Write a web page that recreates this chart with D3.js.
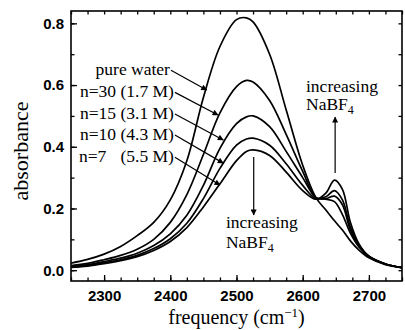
<!DOCTYPE html>
<meta charset="utf-8">
<script src="https://d3js.org/d3.v7.min.js"></script>
<style>
  body { margin: 0; background: #fff; }
</style>
<div id="chart"></div>
<script>
// sample frequencies (cm-1) shared by every spectrum
var freq = [2250, 2275, 2300, 2325, 2350, 2375, 2400, 2425, 2450, 2475, 2500, 2515, 2525,
            2550, 2575, 2600, 2620, 2635, 2648, 2660, 2672, 2685, 2700, 2725, 2750];

// absorbance
var pureWater = [0.023, 0.035, 0.052, 0.077, 0.112, 0.155, 0.228, 0.355, 0.560, 0.725, 0.812, 0.818, 0.805,
                 0.700, 0.520, 0.340, 0.235, 0.195, 0.160, 0.130, 0.095, 0.065, 0.040, 0.018, 0.008];
var n30 = [0.015, 0.022, 0.034, 0.048, 0.068, 0.100, 0.155, 0.245, 0.375, 0.510, 0.595, 0.615, 0.610,
           0.550, 0.440, 0.320, 0.235, 0.230, 0.222, 0.180, 0.120, 0.075, 0.045, 0.020, 0.008];
var n15 = [0.012, 0.018, 0.028, 0.039, 0.055, 0.080, 0.118, 0.178, 0.275, 0.395, 0.475, 0.497, 0.500,
           0.465, 0.385, 0.300, 0.235, 0.232, 0.240, 0.212, 0.130, 0.078, 0.045, 0.020, 0.008];
var n10 = [0.010, 0.015, 0.024, 0.034, 0.048, 0.070, 0.102, 0.152, 0.232, 0.330, 0.405, 0.425, 0.428,
           0.405, 0.345, 0.275, 0.232, 0.238, 0.258, 0.228, 0.140, 0.082, 0.045, 0.020, 0.008];
var n7 = [0.009, 0.013, 0.021, 0.031, 0.044, 0.064, 0.093, 0.138, 0.205, 0.280, 0.355, 0.385, 0.390,
          0.372, 0.318, 0.258, 0.230, 0.250, 0.292, 0.262, 0.155, 0.085, 0.045, 0.020, 0.008];

var series = [pureWater, n30, n15, n10, n7];

var xTicks = [2300, 2400, 2500, 2600, 2700];
var yTicks = [0.0, 0.2, 0.4, 0.6, 0.8];

// curve labels: text, where the text ends, where the arrow points
var labels = [
  { text: "pure water",    tx: 2404, ty: 0.632, ax: 2455, ay: 0.584 },
  { text: "n=30 (1.7 M)",  tx: 2410, ty: 0.560, ax: 2472, ay: 0.503 },
  { text: "n=15 (3.1 M)",  tx: 2410, ty: 0.490, ax: 2480, ay: 0.422 },
  { text: "n=10 (4.3 M)",  tx: 2410, ty: 0.422, ax: 2480, ay: 0.347 },
  { text: "n=7",           tx: 2410, ty: 0.350, ax: 2475, ay: 0.276, extra: "(5.5 M)", sx: 2262 }
];

var width = 405, height = 330;
var margin = { top: 11, right: 3, bottom: 49, left: 71 };

var svg = d3.select("#chart").append("svg")
    .attr("width", width)
    .attr("height", height);

var x = d3.scaleLinear().domain([2250, 2750]).range([margin.left, width - margin.right]);
var y = d3.scaleLinear().domain([-0.035, 0.84]).range([height - margin.bottom, margin.top]);

svg.append("defs").append("clipPath").attr("id", "clip")
  .append("rect")
    .attr("x", margin.left).attr("y", margin.top)
    .attr("width", x.range()[1] - x.range()[0])
    .attr("height", y.range()[0] - y.range()[1]);

svg.append("defs").append("marker")
    .attr("id", "head")
    .attr("viewBox", "0 0 10 10")
    .attr("refX", 9).attr("refY", 5)
    .attr("markerWidth", 8).attr("markerHeight", 6)
    .attr("markerUnits", "userSpaceOnUse")
    .attr("orient", "auto")
  .append("path")
    .attr("d", "M0,0 L10,5 L0,10 Z")
    .attr("fill", "#000");

// spectra
var line = d3.line()
    .x(function (d, i) { return x(freq[i]); })
    .y(function (d) { return y(d); })
    .curve(d3.curveCatmullRom.alpha(0.5));

svg.append("g").attr("clip-path", "url(#clip)")
  .selectAll("path")
  .data(series)
  .enter().append("path")
    .attr("fill", "none")
    .attr("stroke", "#000")
    .attr("stroke-width", 1.7)
    .attr("d", line);

// axes, ticks inward, minor ticks without labels
var x0 = margin.left, x1 = width - margin.right;
var y0 = height - margin.bottom, y1 = margin.top;
var tickFont = "'Liberation Sans', Arial, sans-serif";

function drawAxis(axis, transform, showLabels) {
  var g = svg.append("g").attr("transform", transform).call(axis);
  g.select(".domain").remove();
  g.selectAll("line").attr("stroke", "#000").attr("stroke-width", 1.3);
  g.selectAll("text")
    .attr("font-family", tickFont)
    .attr("font-weight", "bold")
    .attr("font-size", 15)
    .attr("fill", "#000");
  if (!showLabels) g.selectAll("text").remove();
  return g;
}

var xMinor = d3.range(2250, 2751, 25);
var yMinor = d3.range(0, 0.81, 0.1);

drawAxis(d3.axisBottom(x).tickValues(xMinor).tickSize(-3.5).tickFormat(""), "translate(0," + y0 + ")", false);
drawAxis(d3.axisBottom(x).tickValues(xTicks).tickSize(-6).tickPadding(9).tickFormat(d3.format("d")), "translate(0," + y0 + ")", true);
drawAxis(d3.axisTop(x).tickValues(xMinor).tickSize(-3.5).tickFormat(""), "translate(0," + y1 + ")", false);
drawAxis(d3.axisLeft(y).tickValues(yMinor).tickSize(-3.5).tickFormat(""), "translate(" + x0 + ",0)", false);
drawAxis(d3.axisLeft(y).tickValues(yTicks).tickSize(-6).tickPadding(7).tickFormat(d3.format(".1f")), "translate(" + x0 + ",0)", true);
drawAxis(d3.axisRight(y).tickValues(yMinor).tickSize(-3.5).tickFormat(""), "translate(" + x1 + ",0)", false);

svg.append("rect")
    .attr("x", x0).attr("y", y1)
    .attr("width", x1 - x0).attr("height", y0 - y1)
    .attr("fill", "none")
    .attr("stroke", "#000")
    .attr("stroke-width", 1.6);

// axis titles
var serif = "'Liberation Serif', 'Times New Roman', serif";

svg.append("text")
    .attr("transform", "translate(28," + ((y0 + y1) / 2 + 5) + ") rotate(-90)")
    .attr("text-anchor", "middle")
    .attr("font-family", serif)
    .attr("font-size", 22)
    .text("absorbance");

var xt = svg.append("text")
    .attr("x", (x0 + x1) / 2)
    .attr("y", 324)
    .attr("text-anchor", "middle")
    .attr("font-family", serif)
    .attr("font-size", 20);
xt.append("tspan").text("frequency (cm");
xt.append("tspan").attr("font-size", 13).attr("dy", -7).text("\u22121");
xt.append("tspan").attr("dy", 7).text(")");

// curve labels with arrows
var ann = svg.append("g")
    .attr("font-family", serif)
    .attr("font-size", 17.5);

labels.forEach(function (d) {
  if (d.extra) {
    ann.append("text").attr("x", x(d.sx)).attr("y", y(d.ty)).text(d.text);
    ann.append("text").attr("x", x(d.tx) - 3).attr("y", y(d.ty)).attr("text-anchor", "end").text(d.extra);
  } else {
    ann.append("text").attr("x", x(d.tx) - 3).attr("y", y(d.ty)).attr("text-anchor", "end").text(d.text);
  }
  ann.append("line")
      .attr("x1", x(d.tx) - 2).attr("y1", y(d.ty) - 5)
      .attr("x2", x(d.ax)).attr("y2", y(d.ay))
      .attr("stroke", "#000").attr("stroke-width", 1.2)
      .attr("marker-end", "url(#head)");
});

function nabf4(g, fx, fy) {
  var t = g.append("text").attr("x", x(fx)).attr("y", y(fy));
  t.append("tspan").text("NaBF");
  t.append("tspan").attr("font-size", 12).attr("dy", 4).text("4");
}

// decreasing main band
ann.append("line")
    .attr("x1", x(2526)).attr("y1", y(0.367))
    .attr("x2", x(2526)).attr("y2", y(0.179))
    .attr("stroke", "#000").attr("stroke-width", 1.2)
    .attr("marker-end", "url(#head)");
ann.append("text").attr("x", x(2484)).attr("y", y(0.137)).text("increasing");
nabf4(ann, 2484, 0.072);

// growing free-OD band
ann.append("line")
    .attr("x1", x(2649)).attr("y1", y(0.315))
    .attr("x2", x(2649)).attr("y2", y(0.496))
    .attr("stroke", "#000").attr("stroke-width", 1.2)
    .attr("marker-end", "url(#head)");
ann.append("text").attr("x", x(2605)).attr("y", y(0.578)).text("increasing");
nabf4(ann, 2605, 0.519);
</script>
